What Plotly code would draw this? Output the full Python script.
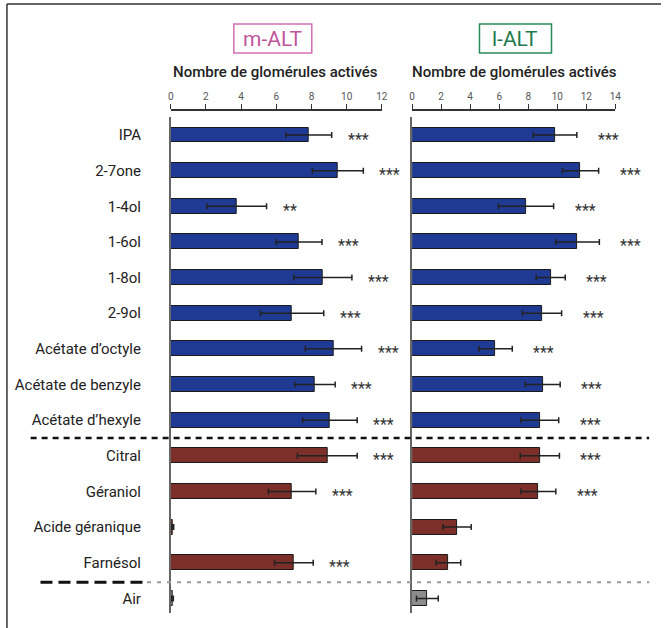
import plotly.graph_objects as go

W, H = 667, 628

categories = ["IPA", "2-7one", "1-4ol", "1-6ol", "1-8ol", "2-9ol",
              "Acétate d’octyle", "Acétate de benzyle", "Acétate d’hexyle",
              "Citral", "Géraniol", "Acide géranique", "Farnésol", "Air"]
groups = ["blue"] * 9 + ["brown"] * 4 + ["gray"]

m_alt_values = [7.85, 9.5, 3.75, 7.3, 8.65, 6.9, 9.25, 8.2, 9.05, 8.9, 6.9, 0.12, 7.0, 0.1]
m_alt_errors = [1.3, 1.45, 1.7, 1.3, 1.65, 1.8, 1.6, 1.15, 1.55, 1.7, 1.35, 0.05, 1.1, 0.05]
m_alt_signif = ["***", "***", "**", "***", "***", "***", "***", "***", "***",
                "***", "***", "", "***", ""]

l_alt_values = [9.85, 11.6, 7.85, 11.4, 9.55, 8.95, 5.75, 9.0, 8.8, 8.8, 8.7, 3.1, 2.5, 1.05]
l_alt_errors = [1.5, 1.25, 1.9, 1.5, 1.0, 1.35, 1.15, 1.2, 1.3, 1.35, 1.2, 0.97, 0.85, 0.75]
l_alt_signif = ["***"] * 11 + ["", "", ""]

m_ticks = [0, 2, 4, 6, 8, 10, 12]
l_ticks = [0, 2, 4, 6, 8, 10, 12, 14]

colors = {"blue": "#1f3a93", "brown": "#7b2f28", "gray": "#8c8c8c"}
bar_colors = [colors[g] for g in groups]

FONT = "Roboto"


def px_x(x):
    return x / W


def px_y(y):
    return 1 - y / H


idx = list(range(len(categories)))

fig = go.Figure()
for vals, errs, xa, ya in [(m_alt_values, m_alt_errors, "x", "y"),
                           (l_alt_values, l_alt_errors, "x2", "y2")]:
    fig.add_trace(go.Bar(
        x=vals, y=idx, orientation="h", width=0.42,
        marker=dict(color=bar_colors, line=dict(color="#1a1a1a", width=1)),
        error_x=dict(type="data", array=errs, visible=True,
                     color="#222222", thickness=1.5, width=3),
        xaxis=xa, yaxis=ya, showlegend=False, hoverinfo="x+y",
    ))

y_range = [13.41, -0.505]
y_dom = [px_y(613), px_y(117)]
x_axis_pos = px_y(110)

common_x = dict(side="top", anchor="free", position=x_axis_pos,
                showline=True, linecolor="#333333", linewidth=1.5,
                ticks="outside", ticklen=5, tickwidth=1.2, tickcolor="#333333",
                tickfont=dict(family=FONT, size=10, color="#555555"),
                showgrid=False, zeroline=False, fixedrange=True)

fig.update_layout(
    width=W, height=H,
    margin=dict(l=0, r=0, t=0, b=0),
    paper_bgcolor="white", plot_bgcolor="white",
    bargap=0,
    xaxis=dict(domain=[px_x(170), px_x(384)], range=[0, 12],
               tickvals=m_ticks, **common_x),
    xaxis2=dict(domain=[px_x(414.7), px_x(620.7)], range=[0, 14],
                tickvals=l_ticks, **common_x),
    yaxis=dict(domain=y_dom, range=y_range, anchor="x",
               tickvals=idx, ticktext=categories, ticks="",
               ticklabelstandoff=25,
               tickfont=dict(family=FONT, size=15, color="#222222"),
               showline=True, linecolor="#666666", linewidth=1.5,
               showgrid=False, zeroline=False, fixedrange=True),
    yaxis2=dict(domain=y_dom, range=y_range, anchor="x2",
                tickvals=idx, showticklabels=False, ticks="",
                showline=True, linecolor="#666666", linewidth=1.5,
                showgrid=False, zeroline=False, fixedrange=True),
)

annotations = []
# significance stars
for vals, errs, sig, xa, ya, shift in [(m_alt_values, m_alt_errors, m_alt_signif, "x", "y", 14),
                                       (l_alt_values, l_alt_errors, l_alt_signif, "x2", "y2", 19)]:
    for i, (v, e, s) in enumerate(zip(vals, errs, sig)):
        if s:
            annotations.append(dict(x=v + e, y=i, xref=xa, yref=ya, text=s,
                                    showarrow=False, xanchor="left", yanchor="middle",
                                    xshift=shift, yshift=-4,
                                    font=dict(family=FONT, size=16, color="#333333")))

# axis titles
for cx in [276.5, 519]:
    annotations.append(dict(x=px_x(cx), y=px_y(72), xref="paper", yref="paper",
                            text="Nombre de glomérules activés", showarrow=False,
                            xanchor="center", yanchor="middle",
                            font=dict(family=FONT, size=15, color="#222222", weight=500)))

# boxed panel titles
panel_titles = [("m-ALT", 234, 313, "#c0559c", "#d46fb3"),
                ("l-ALT", 483, 556, "#1e7a4c", "#2a8a5a")]
shapes = []
for txt, x0, x1, tcol, bcol in panel_titles:
    shapes.append(dict(type="rect", xref="paper", yref="paper",
                       x0=px_x(x0), x1=px_x(x1), y0=px_y(53), y1=px_y(24),
                       line=dict(color=bcol, width=1.5), fillcolor="rgba(0,0,0,0)"))
    annotations.append(dict(x=px_x((x0 + x1) / 2), y=px_y(39), xref="paper", yref="paper",
                            text=txt, showarrow=False, xanchor="center", yanchor="middle",
                            font=dict(family=FONT, size=21, color=tcol)))

# separators
shapes.append(dict(type="line", xref="paper", yref="y", x0=px_x(28), x1=px_x(655),
                   y0=8.5, y1=8.5, line=dict(color="#111111", width=2.5, dash="6px,5px")))
shapes.append(dict(type="line", xref="paper", yref="y", x0=px_x(38), x1=px_x(142),
                   y0=12.55, y1=12.55, line=dict(color="#111111", width=3, dash="12px,6px")))
shapes.append(dict(type="line", xref="paper", yref="y", x0=px_x(146), x1=px_x(655),
                   y0=12.55, y1=12.55, line=dict(color="#999999", width=2, dash="4px,6px")))

# outer frame (top and left)
shapes.append(dict(type="line", xref="paper", yref="paper", x0=px_x(4), x1=1.0,
                   y0=px_y(4), y1=px_y(4), line=dict(color="#333333", width=1.5)))
shapes.append(dict(type="line", xref="paper", yref="paper", x0=px_x(4), x1=px_x(4),
                   y0=px_y(4), y1=0.0, line=dict(color="#333333", width=1.5)))

fig.update_layout(annotations=annotations, shapes=shapes)

fig.write_html("out.html",
               config={"displayModeBar": False},
               post_script="document.body.style.margin='0px';document.body.style.padding='0px';")
